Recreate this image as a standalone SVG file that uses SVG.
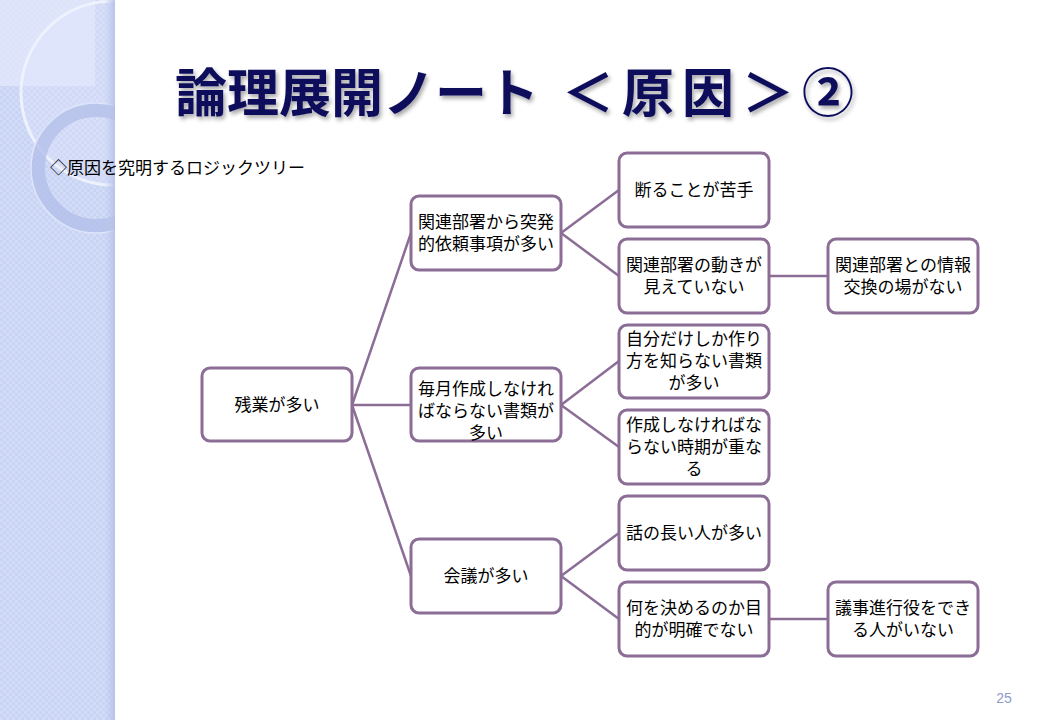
<svg xmlns="http://www.w3.org/2000/svg" width="1040" height="720" viewBox="0 0 1040 720">
<defs>
<pattern id="chk" width="6" height="6" patternUnits="userSpaceOnUse">
<rect width="6" height="6" fill="#d3dcf7"/>
<rect width="3" height="3" fill="#c9d3f3"/>
<rect x="3" y="3" width="3" height="3" fill="#c9d3f3"/>
</pattern>
<linearGradient id="edge" x1="0" y1="0" x2="1" y2="0">
<stop offset="0" stop-color="#c0cbee" stop-opacity="0"/>
<stop offset="1" stop-color="#b4c0e8" stop-opacity="0.9"/>
</linearGradient>
<clipPath id="strip"><rect x="0" y="0" width="115" height="720"/></clipPath>
<filter id="shadow" x="-5%" y="-20%" width="110%" height="150%">
<feGaussianBlur in="SourceAlpha" stdDeviation="2"/>
<feOffset dx="2" dy="3" result="b"/>
<feComponentTransfer><feFuncA type="linear" slope="0.35"/></feComponentTransfer>
<feMerge><feMergeNode/><feMergeNode in="SourceGraphic"/></feMerge>
</filter>
<style>
.node rect{fill:#ffffff;stroke:#8b6d96;stroke-width:3}
.node text{font-family:"Noto Sans CJK JP","Noto Sans CJK SC",sans-serif;font-size:17px;fill:#000;text-anchor:middle}
.conn line{stroke:#8b6d96;stroke-width:2.5;stroke-linecap:round}
.ttl{font-family:"Noto Sans CJK JP","Noto Sans CJK SC",sans-serif;font-size:52px;font-weight:bold;fill:#10105c}
</style>
</defs>
<rect width="1040" height="720" fill="#ffffff"/>
<g id="background">
<rect x="0" y="0" width="115" height="720" fill="url(#chk)"/>
<g clip-path="url(#strip)">
<rect x="0" y="0" width="95" height="86" fill="#e2e8fb" opacity="0.8"/>
<circle cx="113" cy="93" r="92" fill="#dfe6fb" fill-opacity="0.35" stroke="#eef2fd" stroke-width="3"/>
<circle cx="96" cy="168" r="58" fill="none" stroke="#b3bfe9" stroke-width="14" opacity="0.8"/>
<circle cx="96" cy="168" r="65" fill="none" stroke="#dfe5fa" stroke-width="1.5"/>
<rect x="104" y="0" width="11" height="720" fill="url(#edge)"/>
</g>
</g>
<g id="title" filter="url(#shadow)">
<text class="ttl" x="175" y="112">論理展開ノート</text>
<text class="ttl" x="562" y="112" letter-spacing="8">＜原因＞②</text>
</g>
<g id="subtitle">
<text x="50" y="174" font-family="'Noto Sans CJK JP','Noto Sans CJK SC',sans-serif" font-size="17" fill="#000">◇原因を究明するロジックツリー</text>
</g>
<g id="connectors" class="conn">
<line x1="352" y1="405" x2="411" y2="233"/>
<line x1="352" y1="405" x2="411" y2="405"/>
<line x1="352" y1="405" x2="411" y2="576"/>
<line x1="561" y1="233" x2="619" y2="190"/>
<line x1="561" y1="233" x2="619" y2="276"/>
<line x1="561" y1="405" x2="619" y2="361"/>
<line x1="561" y1="405" x2="619" y2="447"/>
<line x1="561" y1="576" x2="619" y2="533"/>
<line x1="561" y1="576" x2="619" y2="619"/>
<line x1="769" y1="276" x2="828" y2="276"/>
<line x1="769" y1="619" x2="828" y2="619"/>
</g>
<g id="n-root" class="node"><rect x="202" y="368" width="150" height="73" rx="8"/><text x="277" y="411">残業が多い</text></g>
<g id="n-a" class="node"><rect x="411" y="196" width="150" height="74" rx="8"/><text x="486" y="228">関連部署から突発</text><text x="486" y="250">的依頼事項が多い</text></g>
<g id="n-b" class="node"><rect x="411" y="368" width="150" height="73" rx="8"/><text x="486" y="395">毎月作成しなけれ</text><text x="486" y="417">ばならない書類が</text><text x="486" y="439">多い</text></g>
<g id="n-c" class="node"><rect x="411" y="539" width="150" height="74" rx="8"/><text x="486" y="582">会議が多い</text></g>
<g id="n-a1" class="node"><rect x="619" y="153" width="150" height="74" rx="8"/><text x="694" y="196">断ることが苦手</text></g>
<g id="n-a2" class="node"><rect x="619" y="239" width="150" height="74" rx="8"/><text x="694" y="271">関連部署の動きが</text><text x="694" y="293">見えていない</text></g>
<g id="n-b1" class="node"><rect x="619" y="325" width="150" height="73" rx="8"/><text x="694" y="345">自分だけしか作り</text><text x="694" y="367">方を知らない書類</text><text x="694" y="389">が多い</text></g>
<g id="n-b2" class="node"><rect x="619" y="410" width="150" height="74" rx="8"/><text x="694" y="431">作成しなければな</text><text x="694" y="453">らない時期が重な</text><text x="694" y="475">る</text></g>
<g id="n-c1" class="node"><rect x="619" y="496" width="150" height="74" rx="8"/><text x="694" y="539">話の長い人が多い</text></g>
<g id="n-c2" class="node"><rect x="619" y="582" width="150" height="74" rx="8"/><text x="694" y="614">何を決めるのか目</text><text x="694" y="636">的が明確でない</text></g>
<g id="n-a2a" class="node"><rect x="828" y="239" width="150" height="74" rx="8"/><text x="903" y="271">関連部署との情報</text><text x="903" y="293">交換の場がない</text></g>
<g id="n-c2a" class="node"><rect x="828" y="582" width="150" height="74" rx="8"/><text x="903" y="614">議事進行役をでき</text><text x="903" y="636">る人がいない</text></g>
<g id="page">
<text x="1004" y="703" font-family="'Liberation Sans',sans-serif" font-size="14" fill="#8c9cc8" text-anchor="middle">25</text>
</g>
</svg>
